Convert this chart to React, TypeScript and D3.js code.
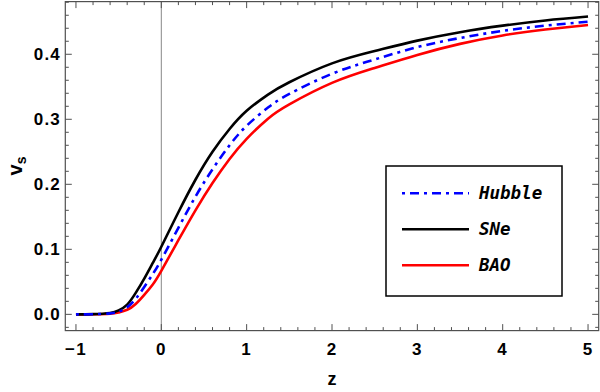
import * as d3 from "d3";

// redshift samples
const zValues = [-1, -0.8, -0.6, -0.5, -0.4, -0.3, -0.2, -0.1, 0, 0.2, 0.4, 0.6, 0.8, 1, 1.25, 1.5, 2, 2.5, 3, 3.5, 4, 4.5, 5];

// v_s
const hubble = [0, 0.0002, 0.0015, 0.004, 0.011, 0.024, 0.042, 0.062, 0.084, 0.133, 0.181, 0.223, 0.26, 0.29, 0.318, 0.339, 0.37, 0.392, 0.411, 0.425, 0.436, 0.444, 0.45];
const sne = [0, 0.0003, 0.002, 0.006, 0.015, 0.033, 0.055, 0.079, 0.104, 0.157, 0.207, 0.25, 0.285, 0.313, 0.338, 0.357, 0.386, 0.405, 0.421, 0.434, 0.444, 0.452, 0.458];
const bao = [0, 0.0001, 0.001, 0.003, 0.007, 0.016, 0.03, 0.046, 0.067, 0.114, 0.16, 0.202, 0.239, 0.27, 0.301, 0.323, 0.356, 0.379, 0.399, 0.416, 0.429, 0.438, 0.445];

const xTicks = [-1, 0, 1, 2, 3, 4, 5];
const yTicks = [0, 0.1, 0.2, 0.3, 0.4];

const legendItems = [
  { name: "Hubble", color: "#0000ff", dash: "3,5,9,5" },
  { name: "SNe", color: "#000000", dash: null },
  { name: "BAO", color: "#ff0000", dash: null },
];

const W = 600;
const H = 392;
const frameColor = "#505050";
const labelFont = "'Liberation Sans', Arial, sans-serif";
const legendFont = "'DejaVu Sans Mono', monospace";

export default function App() {
  const x = d3.scaleLinear().domain([-1.125, 5.125]).range([65.3, 598.7]);
  const y = d3.scaleLinear().domain([-0.025, 0.481]).range([330.6, 1.6]);

  const left = x.range()[0];
  const right = x.range()[1];
  const bottom = y.range()[0];
  const top = y.range()[1];

  const line = d3
    .line<number>()
    .x((_, i) => x(zValues[i]))
    .y((d) => y(d))
    .curve(d3.curveNatural);

  const series = [
    { vals: bao, ...legendItems[2] },
    { vals: sne, ...legendItems[1] },
    { vals: hubble, ...legendItems[0] },
  ];

  const xMinor = d3.range(-1, 5.001, 0.2).filter((v) => Math.abs(v - Math.round(v)) > 1e-6);
  const yMinor = d3.range(-0.02, 0.481, 0.02).filter((v) => Math.abs(v * 10 - Math.round(v * 10)) > 1e-6);

  return (
    <svg width={W} height={H} style={{ position: "absolute", left: 0, top: 0, background: "#fff" }}>
      {/* zero line */}
      <line x1={x(0)} x2={x(0)} y1={top} y2={bottom} stroke="#888" strokeWidth={1} />

      {/* curves */}
      {series.map((s) => (
        <path
          key={s.name}
          d={line(s.vals) ?? ""}
          fill="none"
          stroke={s.color}
          strokeWidth={2.6}
          strokeDasharray={s.dash ?? undefined}
        />
      ))}

      {/* frame */}
      <rect x={left} y={top} width={right - left} height={bottom - top} fill="none" stroke={frameColor} strokeWidth={1.2} />

      {/* x ticks, bottom and top */}
      {xTicks.map((t) => (
        <g key={"xt" + t}>
          <line x1={x(t)} x2={x(t)} y1={bottom} y2={bottom - 6.5} stroke={frameColor} />
          <line x1={x(t)} x2={x(t)} y1={top} y2={top + 6.5} stroke={frameColor} />
          <text
            x={x(t)}
            y={354.5}
            textAnchor="middle"
            fontFamily={labelFont}
            fontWeight="bold"
            fontSize={17}
            letterSpacing={1.2}
          >
            {t < 0 ? "\u2212" + Math.abs(t) : t}
          </text>
        </g>
      ))}
      {xMinor.map((t) => (
        <g key={"xm" + t}>
          <line x1={x(t)} x2={x(t)} y1={bottom} y2={bottom - 3.5} stroke={frameColor} />
          <line x1={x(t)} x2={x(t)} y1={top} y2={top + 3.5} stroke={frameColor} />
        </g>
      ))}

      {/* y ticks, left and right */}
      {yTicks.map((t) => (
        <g key={"yt" + t}>
          <line x1={left} x2={left + 6.5} y1={y(t)} y2={y(t)} stroke={frameColor} />
          <line x1={right} x2={right - 6.5} y1={y(t)} y2={y(t)} stroke={frameColor} />
          <text
            x={61}
            y={y(t) + 6}
            textAnchor="end"
            fontFamily={labelFont}
            fontWeight="bold"
            fontSize={17}
            letterSpacing={1.2}
          >
            {t.toFixed(1)}
          </text>
        </g>
      ))}
      {yMinor.map((t) => (
        <g key={"ym" + t}>
          <line x1={left} x2={left + 3.5} y1={y(t)} y2={y(t)} stroke={frameColor} />
          <line x1={right} x2={right - 3.5} y1={y(t)} y2={y(t)} stroke={frameColor} />
        </g>
      ))}

      {/* axis titles */}
      <text x={332} y={384.5} textAnchor="middle" fontFamily={labelFont} fontWeight="bold" fontSize={18}>
        z
      </text>
      <text
        transform="translate(22,166) rotate(-90)"
        textAnchor="middle"
        fontFamily={labelFont}
        fontWeight="bold"
        fontSize={20}
      >
        <tspan>v</tspan>
        <tspan fontSize={14} dy={4}>s</tspan>
      </text>

      {/* legend */}
      <rect x={386} y={166} width={176} height={130} fill="#fff" stroke="#000" strokeWidth={1.5} />
      {legendItems.map((d, i) => {
        const ly = 193.3 + i * 36;
        return (
          <g key={"lg" + d.name}>
            <line
              x1={402}
              x2={469}
              y1={ly}
              y2={ly}
              stroke={d.color}
              strokeWidth={2.6}
              strokeDasharray={d.dash ?? undefined}
            />
            <text
              x={479}
              y={ly + 6}
              fontFamily={legendFont}
              fontWeight="bold"
              fontStyle="italic"
              fontSize={17.5}
            >
              {d.name}
            </text>
          </g>
        );
      })}
    </svg>
  );
}
